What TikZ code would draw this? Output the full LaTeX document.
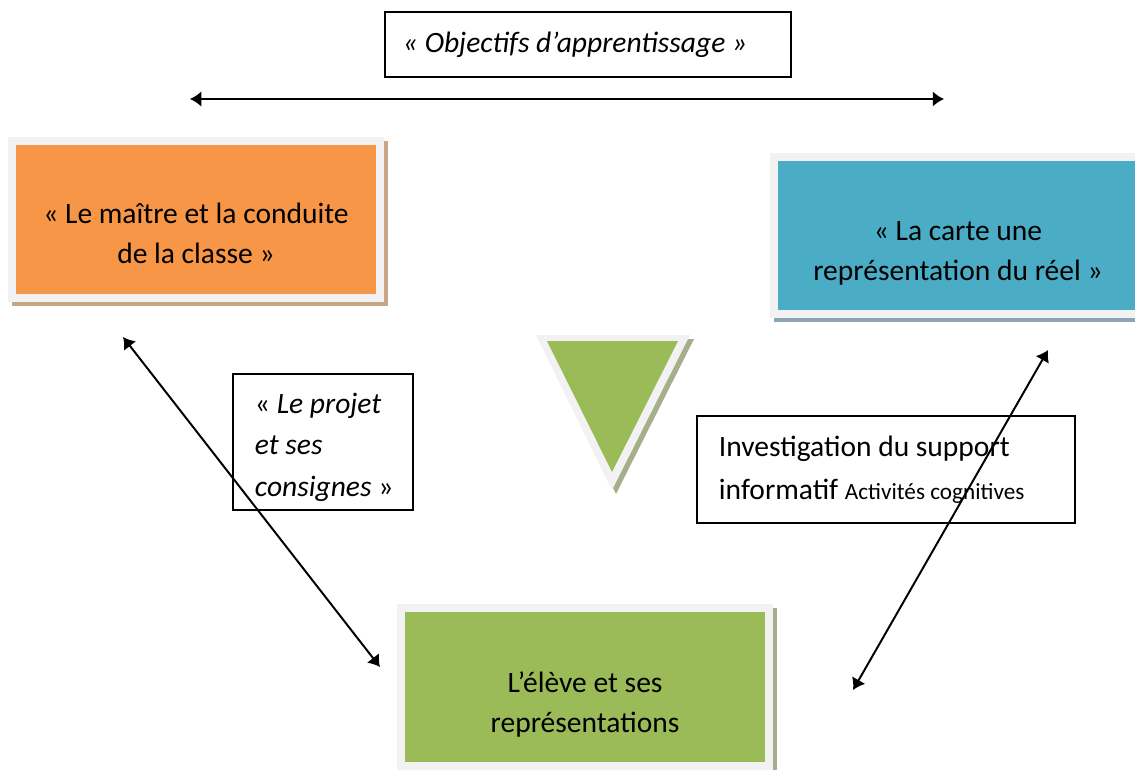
\documentclass[tikz,border=0pt]{standalone}
\usepackage{fontspec}
\setmainfont{Carlito}
\usetikzlibrary{positioning, arrows.meta, backgrounds}
\definecolor{myorange}{RGB}{247,150,70}
\definecolor{myblue}{RGB}{75,172,198}
\definecolor{mygreen}{RGB}{155,187,89}
\definecolor{myframe}{RGB}{242,242,242}
\definecolor{orshade}{RGB}{201,166,135}
\definecolor{blshade}{RGB}{140,165,178}
\definecolor{grshade}{RGB}{165,175,140}

\begin{document}
\begin{tikzpicture}[x=0.025cm, y=-0.025cm,
  every node/.style={font=\fontsize{21}{28.5}\selectfont},
  colbox/.style={rectangle, draw=myframe, line width=0.2cm, minimum width=9.2cm, minimum height=3.925cm},
  boxtext/.style={align=center, inner sep=0pt},
  txtbox/.style={rectangle, draw=black, line width=1pt, align=flush left, inner xsep=0.55cm, inner ysep=0pt},
  dblarrow/.style={{Latex[length=8pt,width=11pt]}-{Latex[length=8pt,width=11pt]}, line width=1.4pt}]

\useasboundingbox (0,0) rectangle (1135,769);
\clip (0,0) rectangle (1135,769);

% Title
\node[txtbox, inner xsep=0.45cm, text width=9.25cm, minimum height=1.625cm] (obj) at (588,44.5) {\itshape « Objectifs d’apprentissage »};

% Box 1 - maitre
\node[colbox, fill=myorange] (maitre) at (196,219.5) {};
\node[boxtext] (maitretxt) at (196,233) {« Le maître et la conduite\\ de la classe »};

% Box 2 - carte
\node[colbox, fill=myblue, minimum width=9.4cm] (carte) at (962,235.5) {};
\node[boxtext] (cartetxt) at (958,253) {« La carte une\\ représentation du réel »};

% Box 3 - eleve
\node[colbox, fill=mygreen, minimum height=3.95cm] (eleve) at (585,687) {};
\node[boxtext] (elevetxt) at (585,704) {L’élève et ses\\ représentations};

% shadows
\begin{scope}[on background layer]
\fill[orshade] ([shift={(4,4)}]maitre.north west) rectangle ([shift={(4,4)}]maitre.south east);
\fill[blshade] ([shift={(4,4)}]carte.north west) rectangle ([shift={(4,4)}]carte.south east);
\fill[grshade] ([shift={(4,4)}]eleve.north west) rectangle ([shift={(4,4)}]eleve.south east);
\end{scope}

% Triangle
\fill[grshade] (540,339) -- (694,339) -- (616,494) -- cycle;
\fill[myframe] (536,335) -- (690,335) -- (612,490) -- cycle;
\fill[mygreen] (547,341) -- (678,341) -- (612,472) -- cycle;

% Text boxes
\node[txtbox, minimum width=4.5cm, minimum height=3.4cm] (projet) at (323,442) {};
\node[boxtext, align=flush left, text width=3.4cm, font=\fontsize{21}{29.5}\selectfont] (projettxt) at (323,447) {« \textit{Le projet}\\ \textit{et ses}\\ \mbox{\textit{consignes} »}};
\node[txtbox, text width=8.35cm, minimum height=2.675cm, font=\fontsize{21}{30.5}\selectfont] (invest) at (886,469.5) {Investigation du support\\ informatif {\fontsize{16.5}{17}\selectfont Activités cognitives}};

% Arrows
\coordinate (objL) at (190,99);
\coordinate (objR) at (944,99);
\coordinate (maitreA) at (123,337);
\coordinate (eleveL) at (380,667);
\coordinate (carteA) at (1048,350);
\coordinate (eleveR) at (853,690);
\draw[dblarrow] (objL) -- (objR);
\draw[dblarrow] (maitreA) -- (eleveL);
\draw[dblarrow] (carteA) -- (eleveR);

\end{tikzpicture}
\end{document}
